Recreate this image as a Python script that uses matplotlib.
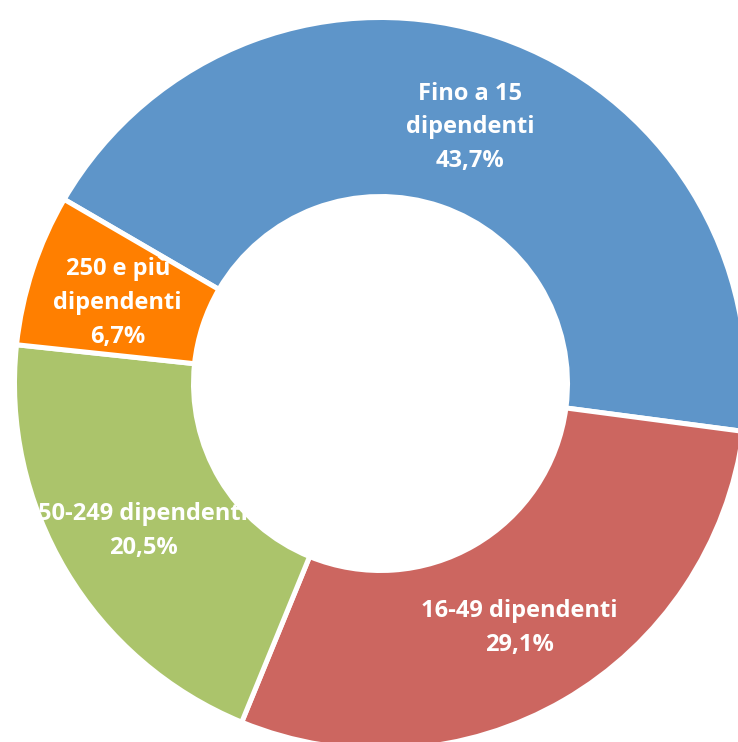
import matplotlib
matplotlib.use("Agg")
import matplotlib.pyplot as plt
import matplotlib.transforms as mtransforms
import numpy as np

# Share of firms by number of employees
categories = ["Fino a 15\ndipendenti", "16-49 dipendenti", "50-249 dipendenti", "250 e più\ndipendenti"]
shares = [43.7, 29.1, 20.5, 6.7]
colors = ["#5E95C9", "#CC6660", "#ABC46B", "#FF7F00"]

W, H, DPI = 738, 742, 100
fig = plt.figure(figsize=(W / DPI, H / DPI), dpi=DPI)
ax = fig.add_axes([0, 0, 1, 1])
ax.set_axis_off()

# Ring geometry in pixels: centre, outer and inner radius
cx, cy, R, r_in = 380.5, 383.5, 366, 187
ring = 1 - r_in / R

wedges, _ = ax.pie(
    shares,
    colors=colors,
    startangle=149.8,
    counterclock=False,
    radius=1.0,
    wedgeprops=dict(width=ring, edgecolor="white", linewidth=3.6),
)

# Labels sit mid-ring, nudged slightly down, and are clipped to their own wedge
label_r = 1 - ring / 2
nudge = mtransforms.offset_copy(ax.transData, fig=fig, x=0, y=-4, units="points")
for w, cat, val in zip(wedges, categories, shares):
    mid = np.deg2rad((w.theta1 + w.theta2) / 2)
    x, y = label_r * np.cos(mid), label_r * np.sin(mid)
    txt = ax.text(
        x, y, f"{cat}\n{val:.1f}%".replace(".", ","),
        ha="center", va="center", color="white",
        fontsize=17, fontweight="bold", family="Open Sans",
        linespacing=1.55, transform=nudge,
    )
    txt.set_clip_path(w)

# The ring runs off the right and bottom edges
ax.set_xlim(-cx / R, (W - cx) / R)
ax.set_ylim(-(H - cy) / R, cy / R)
ax.set_aspect("auto")

fig.savefig("out.png", dpi=DPI, facecolor="white")
